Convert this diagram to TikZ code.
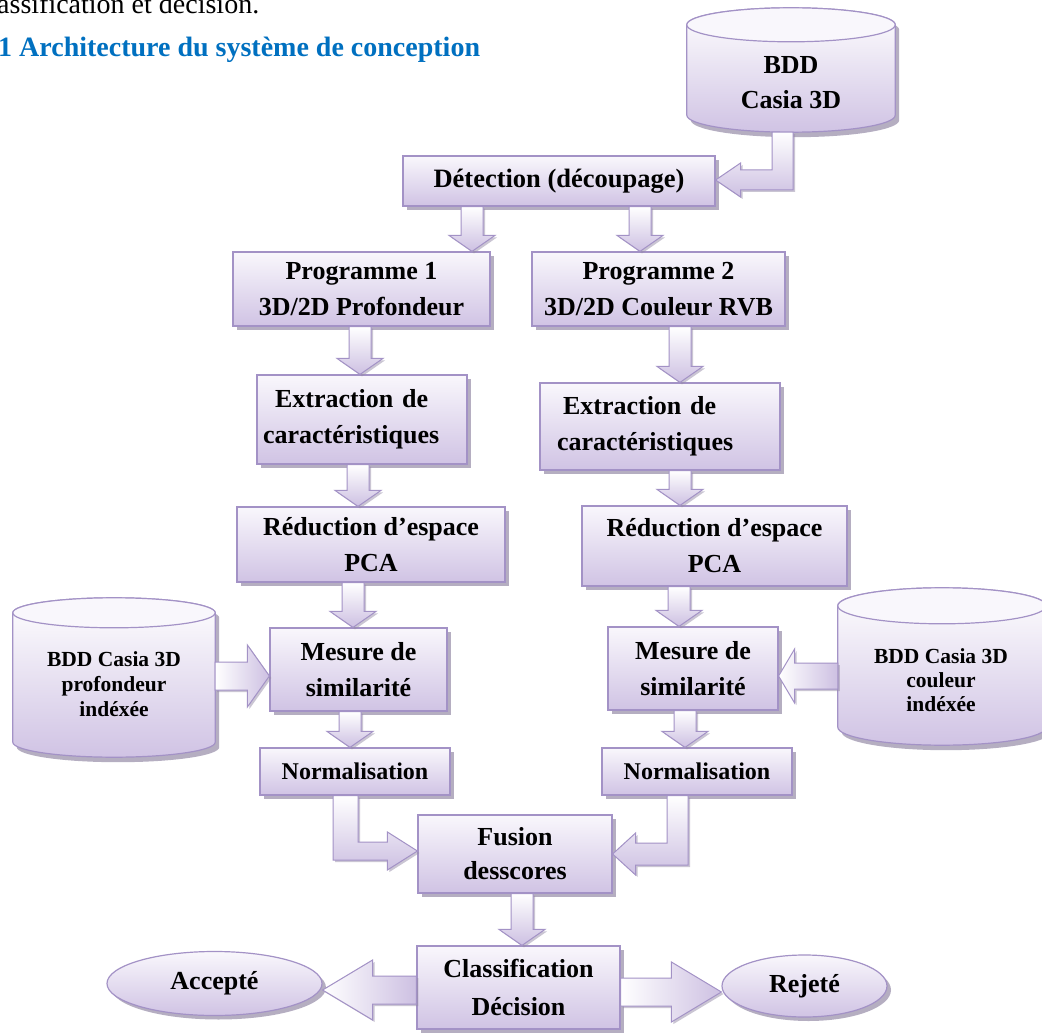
\documentclass[tikz,border=0pt]{standalone}
\usepackage{fontspec}
\setmainfont{Liberation Serif}
\usetikzlibrary{shapes.geometric,shadows,calc}
\definecolor{bordercol}{RGB}{163,146,198}
\definecolor{boxtop}{RGB}{249,247,252}
\definecolor{boxbot}{RGB}{208,195,228}
\definecolor{arrowcol}{RGB}{205,192,226}
\definecolor{shadowcol}{RGB}{150,140,168}
\definecolor{titleblue}{RGB}{0,112,192}
\tikzset{
  box/.style={draw=bordercol, line width=1.2pt, top color=boxtop, bottom color=boxbot,
    drop shadow={shadow xshift=4pt,shadow yshift=-4pt,fill=shadowcol,opacity=.7},
    font=\bfseries\fontsize{26}{36}\selectfont, align=center, inner sep=0pt, text=black},
  ellbox/.style={box, ellipse},
  cylgeo/.style={inner sep=0pt, draw=none},
  cylbody/.style={draw=bordercol, line width=1.2pt, top color=white, bottom color=boxbot,
    drop shadow={shadow xshift=4pt,shadow yshift=-5pt,fill=shadowcol,opacity=.7}},
  cyltop/.style={draw=bordercol, line width=1.2pt, fill=boxtop},
  cyltext/.style={align=center, inner sep=0pt, text=black},
  barrow/.style={draw=bordercol, line width=1pt, top color=white, bottom color=arrowcol,
    drop shadow={shadow xshift=2pt,shadow yshift=-2pt,fill=shadowcol,opacity=.5}},
  barrowh/.style={draw=bordercol, line width=1pt, left color=white, right color=arrowcol,
    drop shadow={shadow xshift=2pt,shadow yshift=-2pt,fill=shadowcol,opacity=.5}},
}
% down block arrow: #1 x, #2 source node, #3 target node
\newcommand\blkdown[3]{%
  \path[barrow] let \p1=(#2.south), \p2=(#3.north) in
  ({#1pt-11pt},\y1) -- ({#1pt+11pt},\y1) -- ({#1pt+11pt},{\y2+16pt}) -- ({#1pt+23pt},{\y2+16pt})
  -- (#1pt,\y2) -- ({#1pt-23pt},{\y2+16pt}) -- ({#1pt-11pt},{\y2+16pt}) -- cycle;}
% right block arrow: #1 y, #2 source, #3 target, #4 shaft half, #5 head half, #6 head length
\newcommand\blkright[6]{%
  \path[barrowh] let \p1=(#2.east), \p2=(#3.west) in
  (\x1,{-#1pt+#4pt}) -- ({\x2-#6pt},{-#1pt+#4pt}) -- ({\x2-#6pt},{-#1pt+#5pt}) -- (\x2,{-#1pt})
  -- ({\x2-#6pt},{-#1pt-#5pt}) -- ({\x2-#6pt},{-#1pt-#4pt}) -- (\x1,{-#1pt-#4pt}) -- cycle;}
\newcommand\blkleft[6]{%
  \path[barrowh] let \p1=(#2.west), \p2=(#3.east) in
  (\x1,{-#1pt+#4pt}) -- ({\x2+#6pt},{-#1pt+#4pt}) -- ({\x2+#6pt},{-#1pt+#5pt}) -- (\x2,{-#1pt})
  -- ({\x2+#6pt},{-#1pt-#5pt}) -- ({\x2+#6pt},{-#1pt-#4pt}) -- (\x1,{-#1pt-#4pt}) -- cycle;}
% bent arrows: #1 src, #2 tgt, #3 xs, #4 shaft half, #5 yc, #6 horiz half, #7 head half, #8 head length
\newcommand\blkbentright[8]{%
  \path[barrow] let \p1=(#1.south), \p2=(#2.west) in
  ({#3pt-#4pt},\y1) -- ({#3pt+#4pt},\y1) -- ({#3pt+#4pt},{-#5pt+#6pt}) -- ({\x2-#8pt},{-#5pt+#6pt})
  -- ({\x2-#8pt},{-#5pt+#7pt}) -- (\x2,{-#5pt}) -- ({\x2-#8pt},{-#5pt-#7pt}) -- ({\x2-#8pt},{-#5pt-#6pt})
  -- ({#3pt-#4pt},{-#5pt-#6pt}) -- cycle;}
\newcommand\blkbentleft[8]{%
  \path[barrow] let \p1=(#1.south), \p2=(#2.east) in
  ({#3pt+#4pt},\y1) -- ({#3pt-#4pt},\y1) -- ({#3pt-#4pt},{-#5pt+#6pt}) -- ({\x2+#8pt},{-#5pt+#6pt})
  -- ({\x2+#8pt},{-#5pt+#7pt}) -- (\x2,{-#5pt}) -- ({\x2+#8pt},{-#5pt-#7pt}) -- ({\x2+#8pt},{-#5pt-#6pt})
  -- ({#3pt+#4pt},{-#5pt-#6pt}) -- cycle;}
% cylinder drawn on a geometry node: #1 node, #2 ry
\newcommand\cylshape[2]{%
  \path[cylbody] let \p1=(#1.north west), \p2=(#1.south east), \n1={(\x2-\x1)/2} in
  (\x1,{\y1-#2pt}) -- (\x1,{\y2+#2pt}) arc[start angle=180,end angle=360,x radius=\n1,y radius=#2pt]
  -- (\x2,{\y1-#2pt}) arc[start angle=0,end angle=180,x radius=\n1,y radius=#2pt] -- cycle;
  \path[cyltop] let \p1=(#1.north west), \p2=(#1.south east), \n1={(\x2-\x1)/2} in
  ({(\x1+\x2)/2},{\y1-#2pt}) ellipse[x radius=\n1,y radius=#2pt];}
\begin{document}
\begin{tikzpicture}[x=1pt,y=-1pt]
\useasboundingbox (0,0) rectangle (1042,1035);
\clip (0,0) rectangle (1042,1035);
\fill[white] (0,0) rectangle (1042,1035);

% texts above
\node[anchor=base west, inner sep=0pt, font=\fontsize{28}{30}\selectfont] (topline) at (-3,14) {assification et décision.};
\node[anchor=base west, inner sep=0pt, font=\bfseries\fontsize{28}{30}\selectfont, text=titleblue] (title) at (-2,57) {1 Architecture du système de conception};

% cylinders
\node[cylgeo, minimum width=208pt, minimum height=124pt] (db) at (791,70) {};
\cylshape{db}{17}
\node[cyltext, font=\bfseries\fontsize{26}{35}\selectfont] (dbt) at (791,83) {BDD\\Casia 3D};

\node[cylgeo, minimum width=202pt, minimum height=159pt] (dbl) at (114,677.5) {};
\cylshape{dbl}{15}
\node[cyltext, font=\bfseries\fontsize{21.5}{25}\selectfont] (dblt) at (114,684) {BDD Casia 3D\\profondeur\\indéxée};

\node[cylgeo, minimum width=208pt, minimum height=157pt] (dbr) at (942,666.5) {};
\cylshape{dbr}{18}
\node[cyltext, font=\bfseries\fontsize{21.5}{24}\selectfont] (dbrt) at (941,680) {BDD Casia 3D\\couleur\\indéxée};

% boxes
\node[box, minimum width=312pt, minimum height=50pt, font=\bfseries\fontsize{26.5}{36}\selectfont] (det) at (559,181) {Détection (découpage)};
\node[box, minimum width=257pt, minimum height=74pt] (p1) at (361.5,289) {Programme 1\\3D/2D Profondeur};
\node[box, minimum width=253pt, minimum height=74pt] (p2) at (658.5,289) {Programme 2\\3D/2D Couleur RVB};
\node[box, minimum width=210pt, minimum height=89pt, text width=198pt, inner xsep=6pt, align=left] (e1) at (362,419.5) {\hspace*{12pt}Extraction de\\caractéristiques};
\node[box, minimum width=240pt, minimum height=87pt, text width=206pt, inner xsep=17pt, align=left] (e2) at (660,426.5) {\hspace*{6pt}Extraction de\\caractéristiques};
\node[box, minimum width=268pt, minimum height=75pt] (r1) at (371,544.5) {Réduction d’espace\\PCA};
\node[box, minimum width=265pt, minimum height=80pt] (r2) at (714.5,546) {Réduction d’espace\\PCA};
\node[box, minimum width=177pt, minimum height=83pt] (m1) at (358.5,669.5) {Mesure de\\similarité};
\node[box, minimum width=170pt, minimum height=83pt] (m2) at (693,668.5) {Mesure de\\similarité};
\node[box, minimum width=190pt, minimum height=47pt, font=\bfseries\fontsize{24}{28}\selectfont] (n1) at (355,771.5) {Normalisation};
\node[box, minimum width=190pt, minimum height=47pt, font=\bfseries\fontsize{24}{28}\selectfont] (n2) at (697,771.5) {Normalisation};
\node[box, minimum width=194pt, minimum height=78pt, font=\bfseries\fontsize{26}{34}\selectfont] (fu) at (515,854) {Fusion\\desscores};
\node[box, minimum width=203pt, minimum height=83pt, font=\bfseries\fontsize{26}{38}\selectfont] (cl) at (518.5,987.5) {Classification\\Décision};
\node[ellbox, minimum width=215pt, minimum height=64pt] (acc) at (214.5,983.5) {Accepté};
\node[ellbox, minimum width=165pt, minimum height=62pt] (rej) at (804.5,986) {Rejeté};

% arrows
\blkbentleft{db}{det}{782.5}{10.5}{180}{10}{17}{25}
\blkdown{472}{det}{p1}
\blkdown{640}{det}{p2}
\blkdown{360}{p1}{e1}
\blkdown{680}{p2}{e2}
\blkdown{358}{e1}{r1}
\blkdown{680}{e2}{r2}
\blkdown{353}{r1}{m1}
\blkdown{679}{r2}{m2}
\blkright{676}{dbl}{m1}{14}{31}{22}
\blkleft{676}{dbr}{m2}{13}{27}{16}
\blkdown{350}{m1}{n1}
\blkdown{685}{m2}{n2}
\blkbentright{n1}{fu}{345.5}{12.5}{851}{9}{19}{30}
\blkbentleft{n2}{fu}{677.5}{10.5}{854}{11}{21}{23}
\blkdown{522}{fu}{cl}
\blkleft{990}{cl}{acc}{14}{30}{50}
\blkright{992}{cl}{rej}{14}{30}{50}
\end{tikzpicture}
\end{document}
